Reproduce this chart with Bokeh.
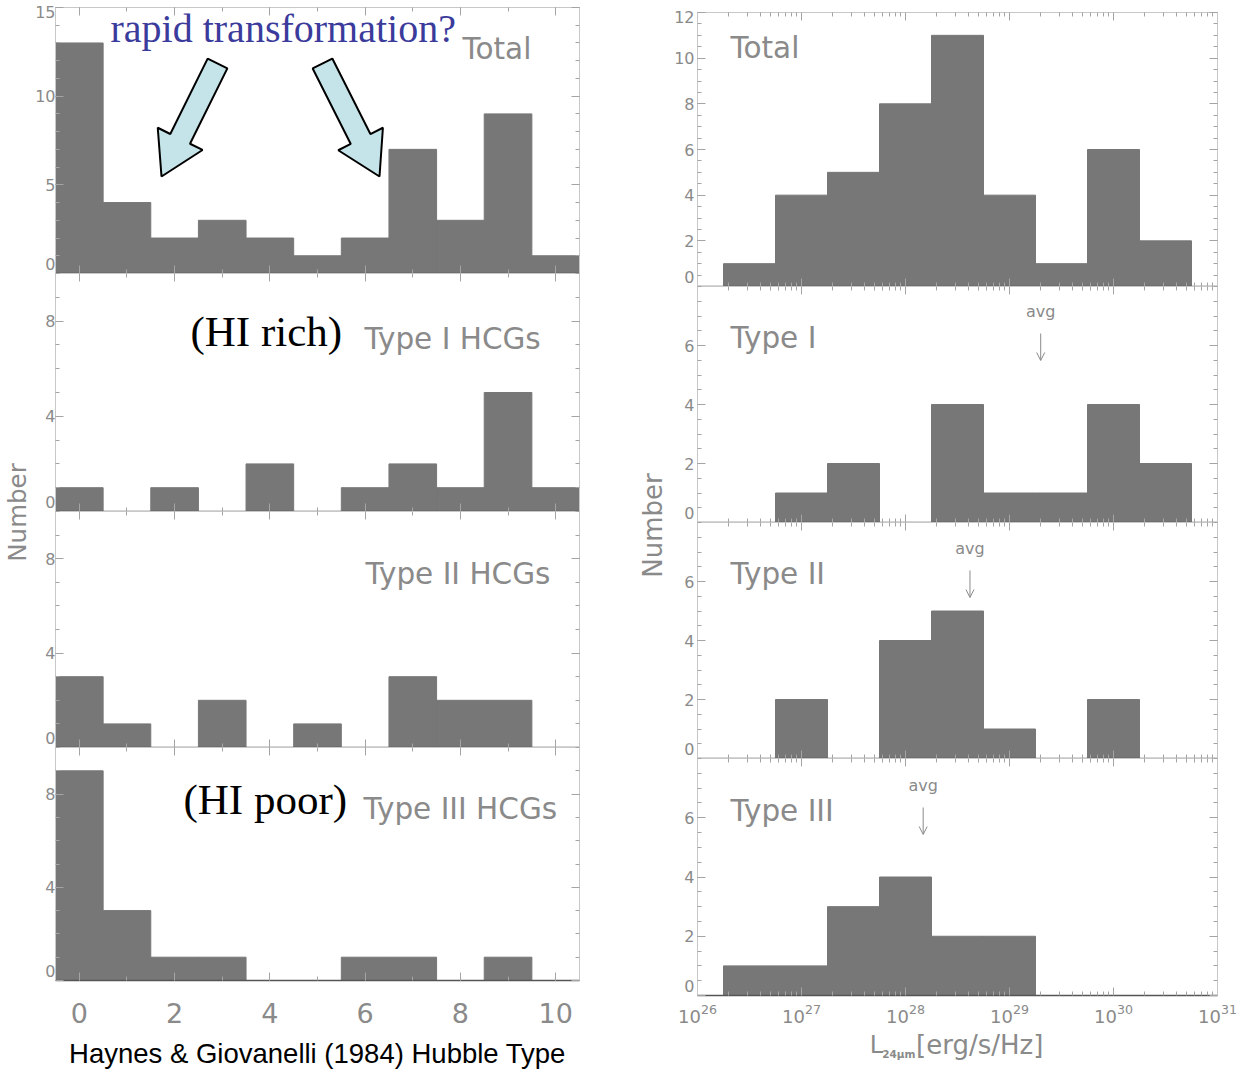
import math
from bokeh.plotting import figure
from bokeh.layouts import row, column
from bokeh.models import (FixedTicker, LinearAxis, LogAxis, Label, Range1d,
                          ColumnDataSource, Arrow, OpenHead, CustomJSTickFormatter,
                          LogTickFormatter)
from bokeh.embed import file_html
from bokeh.resources import INLINE

# ---------------- data ----------------
hubble_types = [0, 1, 2, 3, 4, 5, 6, 7, 8, 9, 10]
hubble_bin_width = 1.0
hubble_total = [13, 4, 2, 3, 2, 1, 2, 7, 3, 9, 1]
hubble_type1 = [1, 0, 1, 0, 2, 0, 1, 2, 1, 5, 1]
hubble_type2 = [3, 1, 0, 2, 0, 1, 0, 3, 2, 2, 0]
hubble_type3 = [9, 3, 1, 1, 0, 0, 1, 1, 0, 1, 0]
hubble_xticks = [0, 2, 4, 6, 8, 10]
hubble_yticks = [[0, 5, 10, 15], [0, 4, 8], [0, 4, 8], [0, 4, 8]]
hubble_ymax = [15, 10, 10, 10]

lum_log_bin_low = [26.25, 26.75, 27.25, 27.75, 28.25, 28.75, 29.25, 29.75, 30.25]
lum_log_bin_width = 0.5
lum_total = [1, 4, 5, 8, 11, 4, 1, 6, 2]
lum_type1 = [0, 1, 2, 0, 4, 1, 1, 4, 2]
lum_type2 = [0, 2, 0, 4, 5, 1, 0, 2, 0]
lum_type3 = [1, 1, 3, 4, 2, 2, 0, 0, 0]
lum_avg_log = [None, 29.30, 28.62, 28.17]
lum_tick_exponents = [26, 27, 28, 29, 30, 31]
lum_yticks = [[0, 2, 4, 6, 8, 10, 12], [0, 2, 4, 6], [0, 2, 4, 6], [0, 2, 4, 6]]
lum_ymax = [12, 8, 8, 8]

left_titles = ["Total", "Type I HCGs", "Type II HCGs", "Type III HCGs"]
right_titles = ["Total", "Type I", "Type II", "Type III"]
left_x_title = "Haynes & Giovanelli (1984) Hubble Type"
y_title = "Number"

# ---------------- layout / style (reference pixel coordinates) ----------------
PAGE_H = 1077
NUM_L_W = 31                      # strip holding the left "Number"
L_BL, L_FW, L_BR = 24, 524, 29    # left panels: frame x 55..579
L_FRAMES = [(7, 273), (273, 511), (511, 747), (747, 980)]
L_COL_W = NUM_L_W + L_BL + L_FW + L_BR            # 608
NUM_R_W = 59                      # strip holding the right "Number"
R_BL, R_FW, R_BR = 30, 520, 33    # right panels: frame x 697..1217
R_X0 = L_COL_W + NUM_R_W          # 667
R_FRAMES = [(12, 286), (286, 522), (522, 758), (758, 995)]
R_P4_BOTTOM = 36
R_STRIP_TOP = R_FRAMES[3][1] + R_P4_BOTTOM

FRAME_C = "#c8c8c8"
BASE_C = "#555555"
TICK_C = "#a4a4a4"
TXT_C = "#8a8a8a"
BAR_C = "#777777"
IDL_FONT = "DejaVu Sans"
SERIF = "Liberation Serif"

LEFT_XR = (hubble_types[0] - hubble_bin_width / 2, hubble_types[-1] + hubble_bin_width / 2)
RIGHT_XR = (10.0 ** lum_tick_exponents[0], 10.0 ** lum_tick_exponents[-1])


def left_x(ref_x):
    x0, x1 = LEFT_XR
    return x0 + (ref_x - NUM_L_W - L_BL) / L_FW * (x1 - x0)


def right_x(ref_x):
    e0, e1 = lum_tick_exponents[0], lum_tick_exponents[-1]
    return 10 ** (e0 + (ref_x - R_X0 - R_BL) / R_FW * (e1 - e0))


def panel_y(ref_y, side, i):
    frames = L_FRAMES if side == "L" else R_FRAMES
    ymax = hubble_ymax[i] if side == "L" else lum_ymax[i]
    top, bot = frames[i]
    return (bot - ref_y) / (bot - top) * ymax


def tick_axis(ax, ticker, line_color=FRAME_C, line_width=1.0):
    ax.ticker = ticker
    ax.axis_line_color = line_color
    ax.axis_line_width = line_width
    ax.major_tick_in = 8
    ax.major_tick_out = 0
    ax.minor_tick_in = 4
    ax.minor_tick_out = 0
    ax.major_tick_line_color = TICK_C
    ax.minor_tick_line_color = TICK_C
    ax.formatter = CustomJSTickFormatter(code="return ''")
    ax.major_label_text_font_size = "0px"
    ax.major_label_text_color = None
    ax.major_label_standoff = 0


LOOKUP_JS = """
let b = 0;
for (let k = 0; k < pos.length; k++) {
  if (Math.abs(pos[k] - tick) < Math.abs(pos[b] - tick)) { b = k; }
}
return txt[b];
"""


def y_label_axis(ticks, ymax, frame_h, standoff):
    # labels at the frame ends are nudged inwards (as IDL does) so they stay on the panel
    lo_nudge = 9.5 / frame_h * ymax
    hi_nudge = 4.0 / frame_h * ymax
    pos = []
    for t in ticks:
        if t == 0:
            pos.append(t + lo_nudge)
        elif t == ymax:
            pos.append(t - hi_nudge)
        else:
            pos.append(t)
    ax = LinearAxis(ticker=FixedTicker(ticks=pos, minor_ticks=[]),
                    formatter=CustomJSTickFormatter(
                        args=dict(pos=pos, txt=[str(t) for t in ticks]), code=LOOKUP_JS))
    ax.axis_line_color = None
    ax.major_tick_line_color = None
    ax.minor_tick_line_color = None
    ax.major_tick_out = 0
    ax.major_tick_in = 0
    ax.minor_tick_out = 0
    ax.minor_tick_in = 0
    ax.major_label_standoff = standoff
    ax.major_label_text_font = IDL_FONT
    ax.major_label_text_font_size = "16px"
    ax.major_label_text_color = TXT_C
    return ax


def make_panel(side, i, counts, title, title_pos):
    frames = L_FRAMES if side == "L" else R_FRAMES
    top, bot = frames[i]
    last = i == 3
    ymax = hubble_ymax[i] if side == "L" else lum_ymax[i]
    if last:
        bottom_border = (PAGE_H - bot) if side == "L" else R_P4_BOTTOM
    else:
        bottom_border = 0
    kw = dict(frame_height=bot - top, y_range=Range1d(0, ymax), output_backend="svg",
              toolbar_location=None, min_border_top=top if i == 0 else 0,
              min_border_bottom=bottom_border,
              background_fill_color="white", border_fill_color="white",
              outline_line_color=None)
    if side == "L":
        p = figure(frame_width=L_FW, x_range=Range1d(*LEFT_XR),
                   min_border_left=L_BL, min_border_right=L_BR, **kw)
        lefts = [t - hubble_bin_width / 2 for t in hubble_types]
        rights = [t + hubble_bin_width / 2 for t in hubble_types]
        xticker = FixedTicker(ticks=hubble_xticks,
                              minor_ticks=list(range(hubble_types[0], hubble_types[-1] + 1)))
        yt = hubble_yticks[i]
        ym = list(range(0, int(ymax) + 1))
        top_axis = LinearAxis()
    else:
        p = figure(frame_width=R_FW, x_axis_type="log", x_range=Range1d(*RIGHT_XR),
                   min_border_left=R_BL, min_border_right=R_BR, **kw)
        lefts = [10.0 ** b for b in lum_log_bin_low]
        rights = [10.0 ** (b + lum_log_bin_width) for b in lum_log_bin_low]
        xticker = FixedTicker(ticks=[10.0 ** e for e in lum_tick_exponents],
                              minor_ticks=[k * 10.0 ** e for e in lum_tick_exponents[:-1]
                                           for k in range(2, 10)])
        yt = lum_yticks[i]
        ym = [k * 0.5 for k in range(0, int(ymax / 0.5) + 1)]
        top_axis = LogAxis()
    p.xgrid.visible = False
    p.ygrid.visible = False

    src = ColumnDataSource(dict(left=lefts, right=rights, top=counts,
                                bottom=[0] * len(counts)))
    p.quad(left="left", right="right", top="top", bottom="bottom", source=src,
           fill_color=BAR_C, line_color=BAR_C, line_width=1)

    yticker = FixedTicker(ticks=yt, minor_ticks=ym)
    bottom_axis = p.below[0]
    tick_axis(bottom_axis, xticker, line_color=BASE_C, line_width=1.3)
    p.add_layout(top_axis, "above")
    tick_axis(top_axis, xticker)
    tick_axis(p.left[0], yticker)
    ra = LinearAxis()
    p.add_layout(ra, "right")
    tick_axis(ra, yticker)
    p.add_layout(y_label_axis(yt, ymax, bot - top, 0 if side == "L" else 3), "left")

    if last:
        ax = bottom_axis
        ax.major_label_text_font = IDL_FONT
        ax.major_label_text_color = TXT_C
        if side == "L":
            ax.formatter = CustomJSTickFormatter(code="return Math.round(tick).toString()")
            ax.major_label_text_font_size = "27px"
            ax.major_label_standoff = 22
            ax.axis_label = left_x_title
            ax.axis_label_text_font = "Liberation Sans"
            ax.axis_label_text_font_size = "27.5px"
            ax.axis_label_text_font_style = "normal"
            ax.axis_label_text_color = "black"
            ax.axis_label_standoff = 12
        else:
            ax.formatter = LogTickFormatter()
            ax.major_label_text_font_size = "18px"
            ax.major_label_standoff = 8

    xf = left_x if side == "L" else right_x
    p.add_layout(Label(x=xf(title_pos[0]), y=panel_y(title_pos[1], side, i), text=title,
                       text_font=IDL_FONT, text_font_size="29.5px", text_color=TXT_C,
                       text_align="left", text_baseline="middle"))
    return p


def text_strip(width, height):
    s = figure(width=width, height=height, x_range=Range1d(0, width),
               y_range=Range1d(0, height), output_backend="svg", toolbar_location=None,
               min_border=0, outline_line_color=None, x_axis_location=None,
               y_axis_location=None, background_fill_color="white",
               border_fill_color="white")
    s.xgrid.visible = False
    s.ygrid.visible = False
    return s


left_counts = [hubble_total, hubble_type1, hubble_type2, hubble_type3]
right_counts = [lum_total, lum_type1, lum_type2, lum_type3]
left_title_pos = [(462, 48), (364, 338), (365, 573), (363, 808)]
right_title_pos = [(730, 47), (730, 337), (730, 573), (730, 810)]

L = [make_panel("L", i, left_counts[i], left_titles[i], left_title_pos[i]) for i in range(4)]
R = [make_panel("R", i, right_counts[i], right_titles[i], right_title_pos[i]) for i in range(4)]

# ---------- left annotations ----------
L[0].add_layout(Label(x=left_x(110), y=panel_y(28, "L", 0), text="rapid transformation?",
                      text_font=SERIF, text_font_size="40px", text_color="#3b3b9c",
                      text_align="left", text_baseline="middle"))
L[1].add_layout(Label(x=left_x(190), y=panel_y(331, "L", 1), text="(HI rich)",
                      text_font=SERIF, text_font_size="43px", text_color="black",
                      text_align="left", text_baseline="middle"))
L[3].add_layout(Label(x=left_x(183), y=panel_y(799, "L", 3), text="(HI poor)",
                      text_font=SERIF, text_font_size="43px", text_color="black",
                      text_align="left", text_baseline="middle"))


def block_arrow(tail, tip, shaft_w, head_w, head_len):
    (x0, y0), (x1, y1) = tail, tip
    dx, dy = x1 - x0, y1 - y0
    ln = math.hypot(dx, dy)
    ux, uy = dx / ln, dy / ln
    nx, ny = -uy, ux
    bx, by = x1 - ux * head_len, y1 - uy * head_len
    pts = [(x0 + nx * shaft_w / 2, y0 + ny * shaft_w / 2),
           (bx + nx * shaft_w / 2, by + ny * shaft_w / 2),
           (bx + nx * head_w / 2, by + ny * head_w / 2),
           (x1, y1),
           (bx - nx * head_w / 2, by - ny * head_w / 2),
           (bx - nx * shaft_w / 2, by - ny * shaft_w / 2),
           (x0 - nx * shaft_w / 2, y0 - ny * shaft_w / 2)]
    return [left_x(px) for px, _ in pts], [panel_y(py, "L", 0) for _, py in pts]


for tail, tip in [((217, 63), (161, 176)), ((322, 63), (379, 176))]:
    ax_, ay_ = block_arrow(tail, tip, 22, 50, 42)
    L[0].patch(ax_, ay_, fill_color="#c4e4e9", line_color="black", line_width=2)

# ---------- avg markers ----------
avg_label_y = [None, 311, 548, 785]
avg_arrow_y = [None, (333, 360), (570, 597), (807, 834)]
for i in (1, 2, 3):
    xa = 10.0 ** lum_avg_log[i]
    R[i].add_layout(Label(x=xa, y=panel_y(avg_label_y[i], "R", i), text="avg",
                          text_font=IDL_FONT, text_font_size="16px", text_color=TXT_C,
                          text_align="center", text_baseline="middle"))
    R[i].add_layout(Arrow(x_start=xa, y_start=panel_y(avg_arrow_y[i][0], "R", i),
                          x_end=xa, y_end=panel_y(avg_arrow_y[i][1], "R", i),
                          line_color=TXT_C, line_width=1,
                          end=OpenHead(size=8, line_color=TXT_C, line_width=1)))

# ---------- "Number" strips ----------
num_l = text_strip(NUM_L_W, PAGE_H)
num_l.add_layout(Label(x=16.5, y=PAGE_H - 512, text=y_title, angle=math.pi / 2,
                       text_font=IDL_FONT, text_font_size="24.5px", text_color=TXT_C,
                       text_align="center", text_baseline="middle"))
num_r = text_strip(NUM_R_W, PAGE_H)
num_r.add_layout(Label(x=652 - L_COL_W, y=PAGE_H - 525, text=y_title, angle=math.pi / 2,
                       text_font=IDL_FONT, text_font_size="26px", text_color=TXT_C,
                       text_align="center", text_baseline="middle"))

# ---------- right x title strip: L_24um [erg/s/Hz] ----------
R_COL_W = R_BL + R_FW + R_BR
strip_h = PAGE_H - R_STRIP_TOP
xt = text_strip(R_COL_W, strip_h)
xt.add_layout(Label(x=860 - R_X0, y=PAGE_H - 1044, text="L",
                    text_font=IDL_FONT, text_font_size="24px", text_color=TXT_C,
                    text_align="left", text_baseline="middle"))
xt.add_layout(Label(x=874 - R_X0, y=PAGE_H - 1053, text="24μm",
                    text_font=IDL_FONT, text_font_size="10.5px", text_font_style="bold",
                    text_color=TXT_C, text_align="left", text_baseline="middle"))
xt.add_layout(Label(x=912 - R_X0, y=PAGE_H - 1044, text="[erg/s/Hz]",
                    text_font=IDL_FONT, text_font_size="26px", text_color=TXT_C,
                    text_align="left", text_baseline="middle"))

layout = row(num_l, column(*L), num_r, column(*R, xt))
open("out.html", "w").write(file_html(layout, INLINE))
